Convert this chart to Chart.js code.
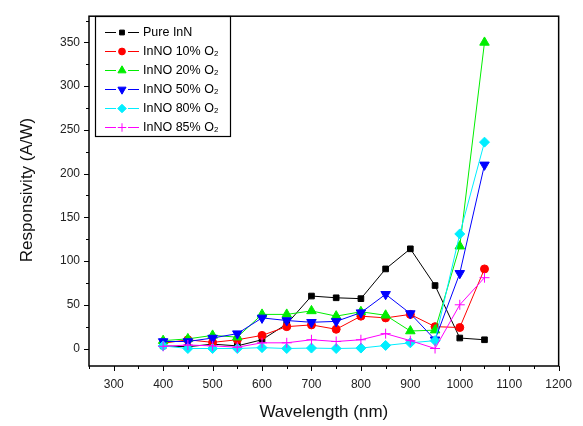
<!DOCTYPE html>
<html><head><meta charset="utf-8">
<script src="https://cdn.jsdelivr.net/npm/chart.js@4"></script>
<style>html,body{margin:0;padding:0;background:#fff}#wrap{width:583px;height:426px}</style>
</head><body><div id="wrap"><canvas id="c" width="583" height="426"></canvas></div>
<script>
const wavelengths = [400,450,500,550,600,650,700,750,800,850,900,950,1000,1050];
const pureInN = [3,2,5,3,10,28,60,58,57,91,114,72,12,10];
const inno10  = [6,10,7,10,15,25,27,22,37,35,39,25,24,91];
const inno20  = [9,11,15,13,39,39,43,37,42,38,20,21,117,350];
const inno50  = [8,8,12,17,35,32,30,31,41,62,40,10,86,210];
const inno80  = [3,0,0,0,1,0,0.5,0,0.5,3.5,6.5,9,131,236];
const inno85  = [2.5,4,3,1.5,6.5,6.5,10,8,10,17,9,0,50,81];
const seriesNames = ['Pure InN','InNO 10% O\u2082','InNO 20% O\u2082','InNO 50% O\u2082','InNO 80% O\u2082','InNO 85% O\u2082'];
const xTicks = [250,300,350,400,450,500,550,600,650,700,750,800,850,900,950,1000,1050,1100,1150,1200];
const yTicks = [-25,0,25,50,75,100,125,150,175,200,225,250,275,300,325,350,375];

const styles = [
  {c:'#000000', ps:'rect', r:4, rot:0},
  {c:'#ff0000', ps:'circle', r:4, rot:0},
  {c:'#00ee00', ps:'triangle', r:5.5, rot:0},
  {c:'#0000ff', ps:'triangle', r:5.5, rot:180},
  {c:'#00eeff', ps:'rectRot', r:5, rot:0},
  {c:'#ff00ff', ps:'cross', r:5, rot:0}
];
const allData = [pureInN,inno10,inno20,inno50,inno80,inno85];
const datasets = allData.map((d,i)=>({
  label: seriesNames[i],
  data: wavelengths.map((w,j)=>({x:w,y:d[j]})),
  borderColor: styles[i].c,
  backgroundColor: styles[i].c,
  borderWidth: 1,
  pointStyle: styles[i].ps,
  pointRadius: styles[i].r,
  pointRotation: styles[i].rot,
  pointBorderWidth: 1,
  pointBorderColor: styles[i].c,
  pointBackgroundColor: styles[i].c,
  tension: 0,
  order: 6 - i
}));

const font = "'Liberation Sans', Arial, sans-serif";

const framePlugin = {
  id:'frame',
  afterDraw(chart){
    const ctx = chart.ctx, a = chart.chartArea;
    const xs = chart.scales.x, ys = chart.scales.y;
    ctx.save();
    ctx.strokeStyle = '#000'; ctx.lineWidth = 1.5;
    ctx.strokeRect(a.left, a.top, a.right - a.left, a.bottom - a.top);
    ctx.lineWidth = 1;
    xTicks.forEach(v=>{
      const px = Math.round(xs.getPixelForValue(v)) + 0.5;
      const len = (v % 100 === 0) ? 5 : 3;
      ctx.beginPath(); ctx.moveTo(px, a.bottom); ctx.lineTo(px, a.bottom + len); ctx.stroke();
    });
    yTicks.forEach(v=>{
      const py = Math.round(ys.getPixelForValue(v)) + 0.5;
      if (py < a.top || py > a.bottom) return;
      const len = (v % 50 === 0) ? 5 : 3;
      ctx.beginPath(); ctx.moveTo(a.left, py); ctx.lineTo(a.left - len, py); ctx.stroke();
    });
    // axis titles
    ctx.fillStyle = '#111';
    ctx.font = '17px ' + font;
    ctx.textAlign = 'center'; ctx.textBaseline = 'middle';
    ctx.fillText('Wavelength (nm)', (a.left + a.right)/2, 412);
    ctx.save();
    ctx.translate(27, 190); ctx.rotate(-Math.PI/2);
    ctx.fillText('Responsivity (A/W)', 0, 0);
    ctx.restore();
    // legend
    const lx = 95, ly = 16, lw = 135, lh = 120;
    ctx.fillStyle = '#fff';
    ctx.fillRect(lx, ly, lw, lh);
    ctx.strokeStyle = '#000'; ctx.lineWidth = 1.2;
    ctx.strokeRect(lx + 0.5, ly + 0.5, lw, lh);
    chart.data.datasets.forEach((ds,i)=>{
      const y = 32 + i * 19;
      ctx.strokeStyle = ds.borderColor; ctx.lineWidth = 1;
      ctx.beginPath(); ctx.moveTo(105, y + 0.5); ctx.lineTo(116, y + 0.5); ctx.stroke();
      ctx.beginPath(); ctx.moveTo(128, y + 0.5); ctx.lineTo(139, y + 0.5); ctx.stroke();
      ctx.fillStyle = ds.backgroundColor;
      Chart.helpers.drawPoint(ctx, {pointStyle: ds.pointStyle, radius: ds.pointRadius * 0.85, rotation: ds.pointRotation, borderWidth: 1}, 122, y + 0.5);
      ctx.fillStyle = '#000';
      ctx.font = '12.5px ' + font;
      ctx.textAlign = 'left'; ctx.textBaseline = 'middle';
      ctx.fillText(ds.label, 143, y + 1);
    });
    ctx.restore();
  }
};

new Chart(document.getElementById('c'), {
  type: 'line',
  data: { datasets },
  options: {
    responsive: false,
    animation: false,
    devicePixelRatio: 1,
    layout: { padding: { left: 0, top: 11, right: 21, bottom: 0 } },
    plugins: { legend: { display: false }, tooltip: { enabled: false } },
    scales: {
      x: {
        type: 'linear', min: 250, max: 1200,
        afterBuildTicks(s){ s.ticks = xTicks.filter(v=>v%100===0).map(v=>({value:v})); },
        afterFit(s){ s.height = 60; },
        grid: { display: false, drawTicks: false },
        border: { display: false },
        ticks: { color: '#222', font: { size: 12, family: font }, padding: 11, maxRotation: 0, autoSkip: false, callback: v => String(v) }
      },
      y: {
        type: 'linear', min: -20, max: 380,
        afterBuildTicks(s){ s.ticks = yTicks.filter(v=>v%50===0 && v>=0).map(v=>({value:v})); },
        afterFit(s){ s.width = 89; },
        grid: { display: false, drawTicks: false },
        border: { display: false },
        ticks: { color: '#222', font: { size: 12, family: font }, padding: 9, autoSkip: false, callback: v => String(v) }
      }
    }
  },
  plugins: [framePlugin]
});
</script></body></html>
